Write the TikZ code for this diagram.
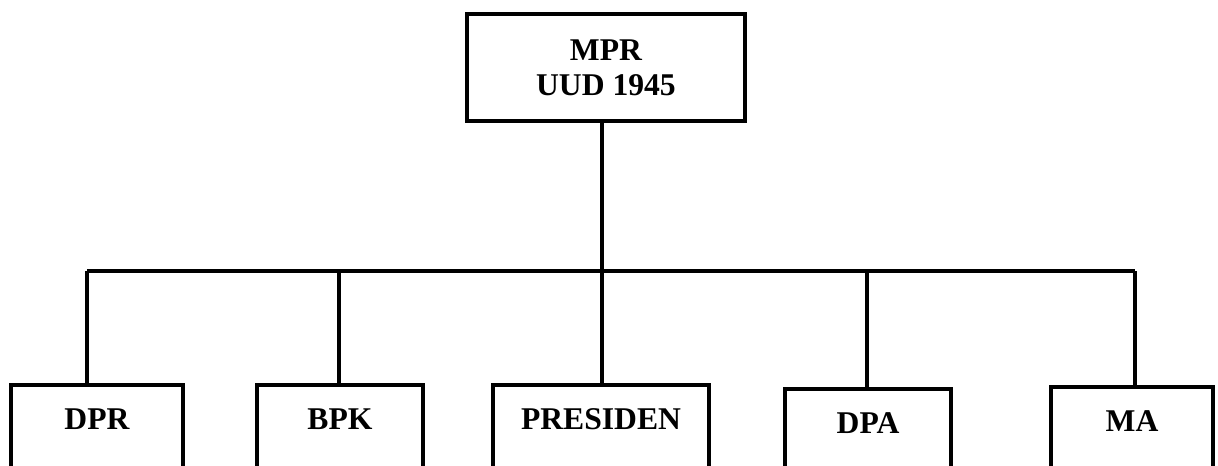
\documentclass[tikz,border=0pt]{standalone}
\usepackage{fontspec}
\setmainfont{Liberation Serif}
\begin{document}
\begin{tikzpicture}[line width=3.2pt,
  box/.style={draw,outer sep=0pt,inner xsep=0pt,font=\fontsize{22.5}{25}\selectfont\bfseries},
  unit/.style={box,anchor=north,inner ysep=0.51cm,text height=0.6cm,text depth=2cm}]
\useasboundingbox (0,0) rectangle (30.45,-11.625);
\clip (0,0) rectangle (30.45,-11.625);
\node[box,align=center,minimum width=6.95cm,minimum height=2.675cm] (mpr) at (15.15,-1.69) {MPR\\UUD 1945};
\node[unit,minimum width=4.3cm] (dpr) at (2.425,-9.625) {DPR};
\node[unit,minimum width=4.15cm] (bpk) at (8.5,-9.625) {BPK};
\node[unit,minimum width=5.4cm] (pres) at (15.025,-9.625) {PRESIDEN};
\node[unit,minimum width=4.15cm] (dpa) at (21.7,-9.725) {DPA};
\node[unit,minimum width=4.05cm] (ma) at (28.3,-9.675) {MA};
\coordinate (b1) at (2.175,-6.775);
\coordinate (b2) at (8.475,-6.775);
\coordinate (b3) at (15.05,-6.775);
\coordinate (b4) at (21.675,-6.775);
\coordinate (b5) at (28.375,-6.775);
\draw (b1)--(b5);
\draw (b3 |- mpr.south)--(b3);
\draw (b1)--(b1 |- dpr.north);
\draw (b2)--(b2 |- bpk.north);
\draw (b3)--(b3 |- pres.north);
\draw (b4)--(b4 |- dpa.north);
\draw (b5)--(b5 |- ma.north);
\end{tikzpicture}
\end{document}
